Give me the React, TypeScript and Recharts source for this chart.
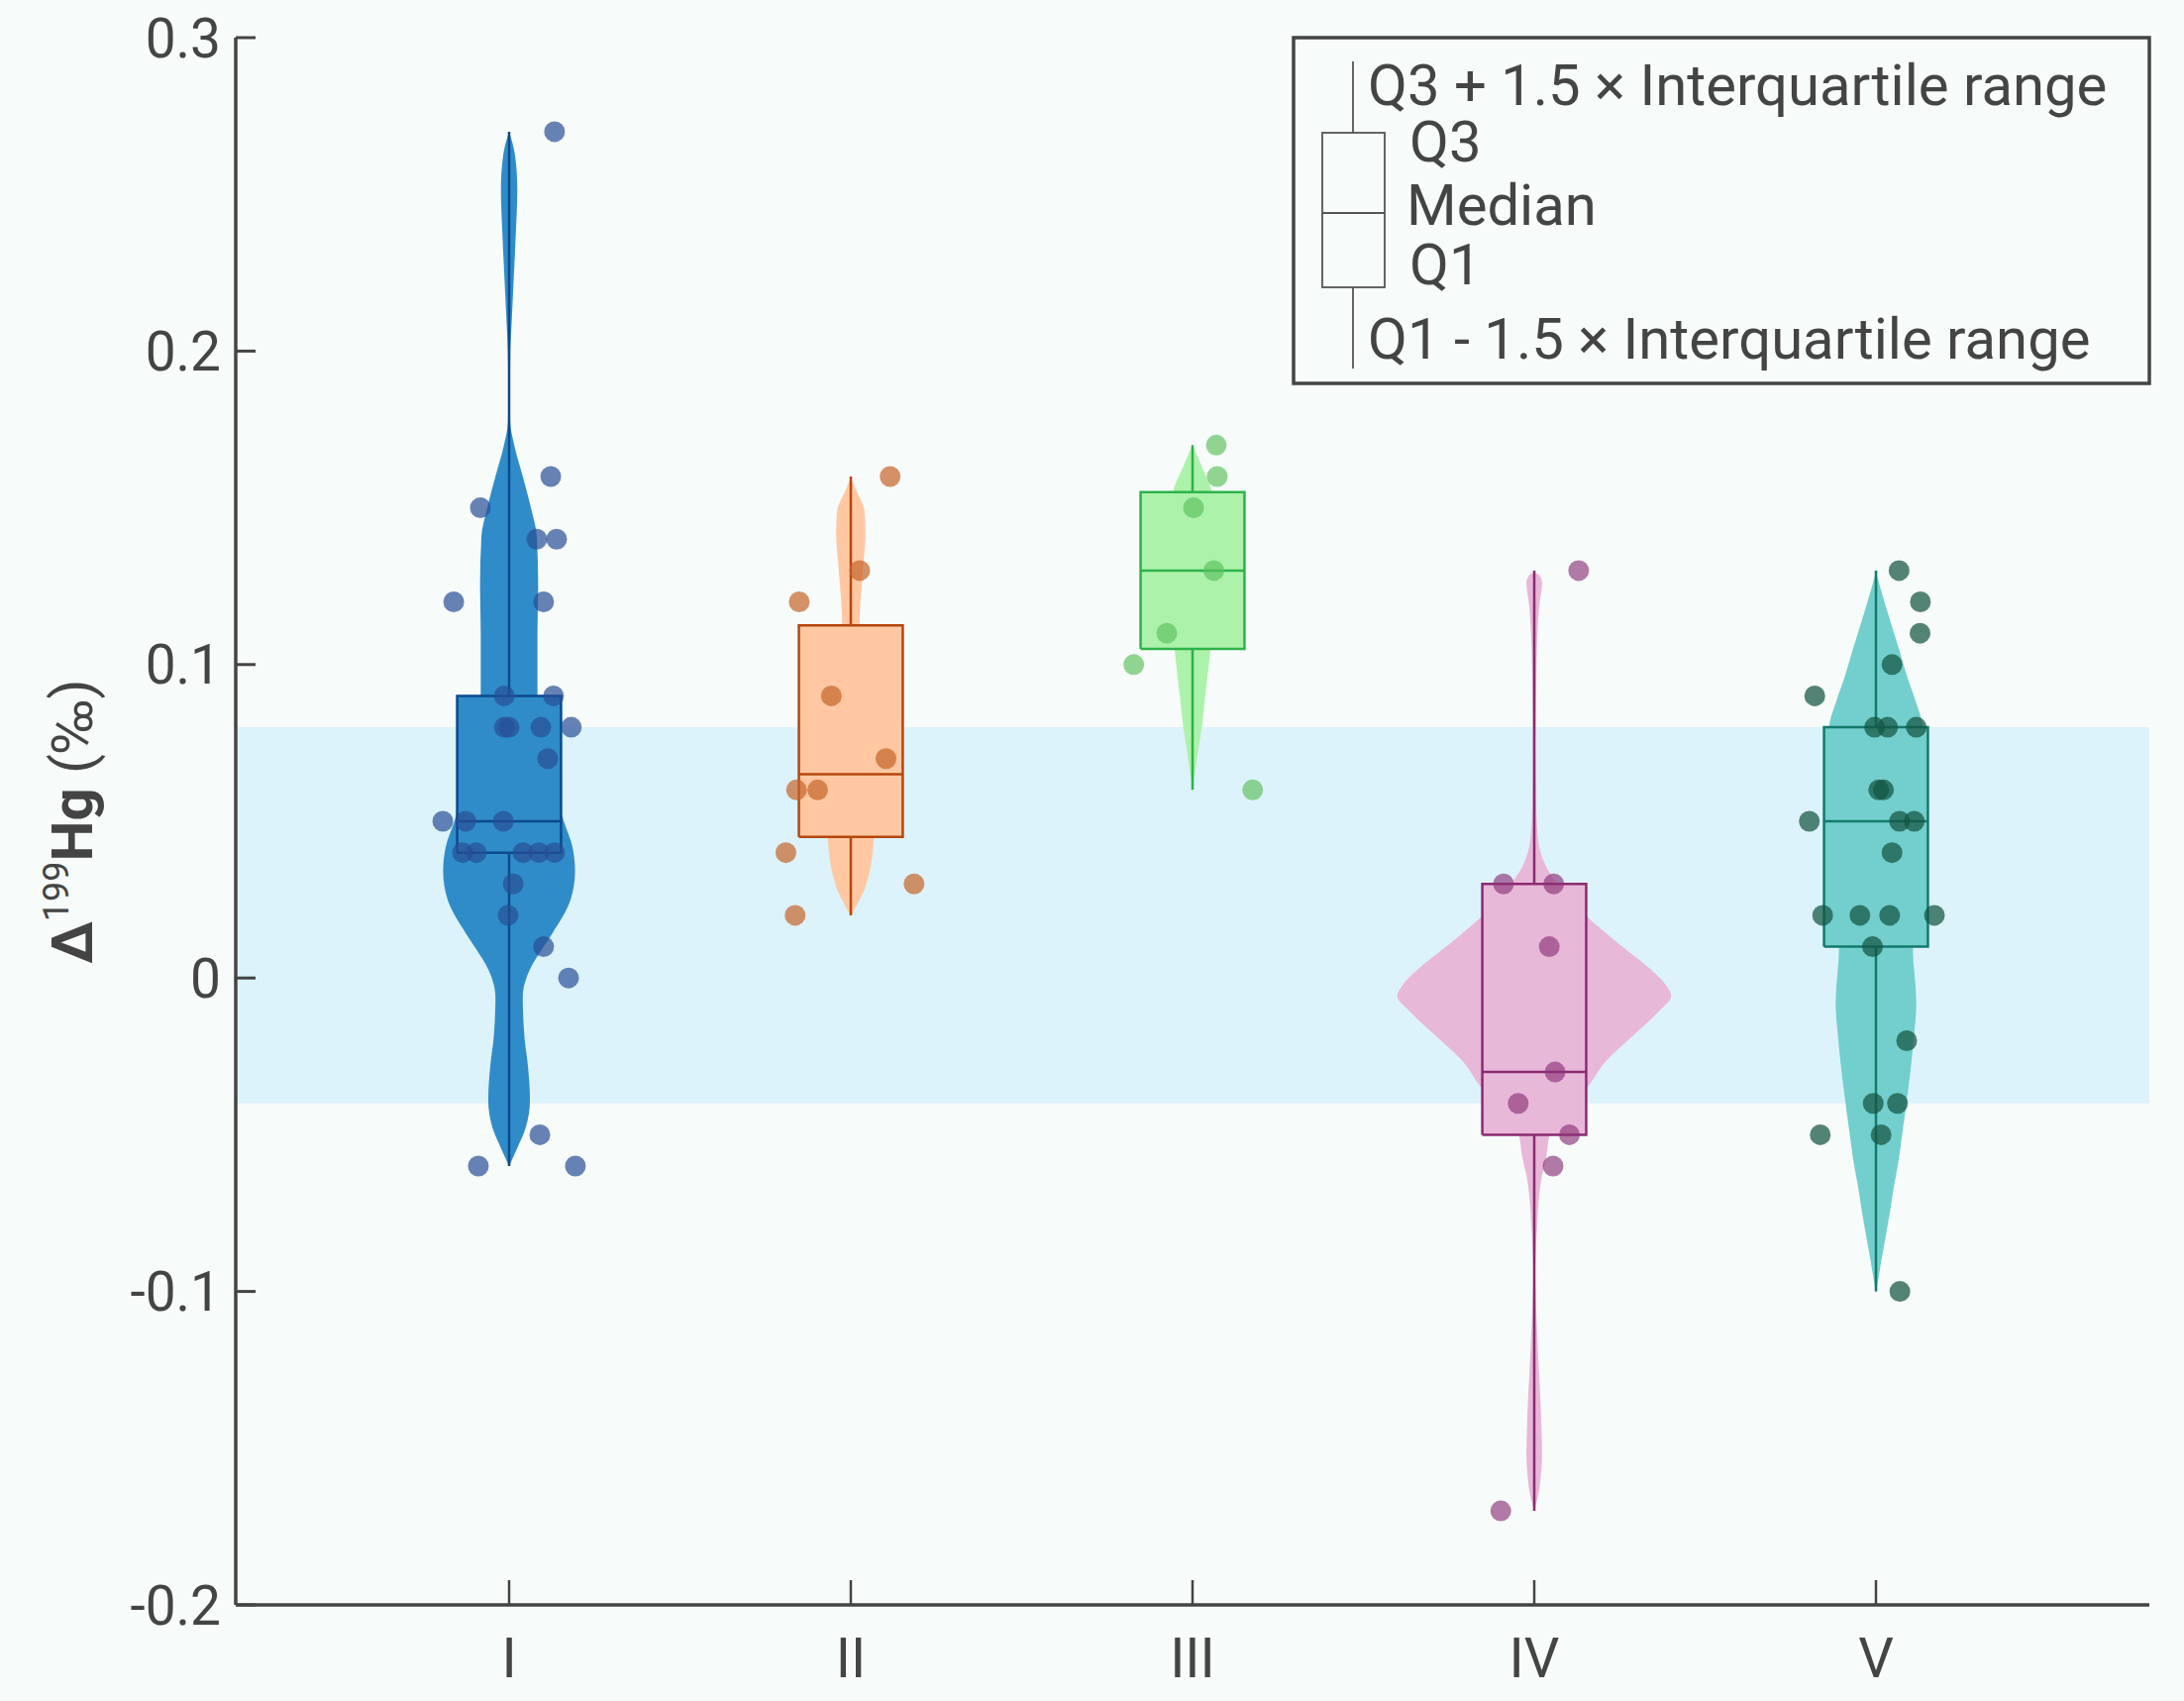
import React from "react";
import { ComposedChart, Scatter, XAxis, YAxis, ReferenceArea } from "recharts";

document.body.style.margin = "0";

const BG = "#f7fbfa";
const INK = "#444444";

// categories and their x positions
const categories = ["I", "II", "III", "IV", "V"];
const positions = [1, 2, 3, 4, 5];
const yTicks = [-0.2, -0.1, 0, 0.1, 0.2, 0.3];

// background reference band
const bandLow = -0.04;
const bandHigh = 0.08;

// box plot statistics
const q1 = [0.04, 0.045, 0.105, -0.05, 0.01];
const medians = [0.05, 0.065, 0.13, -0.03, 0.05];
const q3 = [0.09, 0.1125, 0.155, 0.03, 0.08];
const lowEnds = [-0.06, 0.02, 0.06, -0.17, -0.1];
const highEnds = [0.27, 0.16, 0.17, 0.13, 0.13];
const boxHalf = 0.152;

// violin outlines: [value, half width]
const violinI: [number, number][] = [
  [-0.06, 0], [-0.054, 0.025], [-0.048, 0.048], [-0.039, 0.061], [-0.028, 0.055],
  [-0.019, 0.045], [-0.006, 0.04], [0.003, 0.062], [0.009, 0.095], [0.0143, 0.127],
  [0.025, 0.18], [0.034, 0.193], [0.042, 0.185], [0.05, 0.16], [0.062, 0.13],
  [0.075, 0.1], [0.09, 0.083], [0.11, 0.083], [0.125, 0.085], [0.141, 0.081],
  [0.1495, 0.065], [0.16, 0.04], [0.17, 0.015], [0.178, 0.003], [0.196, 0.003],
  [0.214, 0.0096], [0.236, 0.019], [0.2516, 0.024], [0.2627, 0.017], [0.27, 0],
];
const violinII: [number, number][] = [
  [0.0197, 0], [0.0234, 0.018], [0.0276, 0.038], [0.0318, 0.05], [0.036, 0.059],
  [0.0402, 0.064], [0.0446, 0.0675], [0.055, 0.068], [0.07, 0.06], [0.085, 0.045],
  [0.1, 0.032], [0.112, 0.025], [0.12, 0.028], [0.131, 0.036], [0.142, 0.043],
  [0.149, 0.04], [0.155, 0.018], [0.1596, 0],
];
const violinIII: [number, number][] = [
  [0.06, 0], [0.07, 0.013], [0.08, 0.027], [0.09, 0.037], [0.1047, 0.052],
  [0.12, 0.06], [0.14, 0.062], [0.155, 0.056], [0.1624, 0.03], [0.17, 0],
];
const violinIV: [number, number][] = [
  [-0.17, 0], [-0.165, 0.012], [-0.158, 0.02], [-0.152, 0.023], [-0.143, 0.021],
  [-0.134, 0.018], [-0.124, 0.013], [-0.114, 0.009], [-0.104, 0.005], [-0.094, 0.003],
  [-0.086, 0.005], [-0.078, 0.009], [-0.0725, 0.012], [-0.064, 0.021], [-0.0566, 0.036],
  [-0.05, 0.045], [-0.043, 0.08], [-0.0346, 0.157], [-0.0265, 0.21], [-0.0186, 0.287],
  [-0.0107, 0.364], [-0.0056, 0.401], [-0.0027, 0.388], [0.0033, 0.335], [0.0113, 0.243],
  [0.0197, 0.153], [0.0297, 0.07], [0.0353, 0.036], [0.0412, 0.016], [0.047, 0.009],
  [0.06, 0.005], [0.075, 0.004], [0.095, 0.006], [0.111, 0.01], [0.119, 0.015],
  [0.126, 0.023], [0.1285, 0.015], [0.1294, 0],
];
const violinV: [number, number][] = [
  [-0.1006, 0], [-0.09, 0.016], [-0.0746, 0.041], [-0.0668, 0.052], [-0.059, 0.065],
  [-0.048, 0.079], [-0.04, 0.089], [-0.02, 0.11], [-0.0078, 0.118], [0.0096, 0.108],
  [0.03, 0.12], [0.05, 0.14], [0.0797, 0.137], [0.0886, 0.115], [0.0962, 0.091],
  [0.104, 0.07], [0.1117, 0.048], [0.1195, 0.026], [0.1296, 0],
];

// sample points: [horizontal jitter, value]
const pointsI: [number, number][] = [
  [0.133, 0.27], [0.122, 0.16], [-0.084, 0.15], [0.081, 0.14], [0.139, 0.14],
  [-0.162, 0.12], [0.101, 0.12], [-0.014, 0.09], [0.13, 0.09], [-0.014, 0.08],
  [0, 0.08], [0.093, 0.08], [0.182, 0.08], [0.113, 0.07], [-0.194, 0.05],
  [-0.127, 0.05], [-0.017, 0.05], [-0.136, 0.04], [-0.096, 0.04], [0.041, 0.04],
  [0.087, 0.04], [0.133, 0.04], [0.012, 0.03], [-0.003, 0.02], [0.101, 0.01],
  [0.174, 0], [0.09, -0.05], [-0.09, -0.06], [0.194, -0.06],
];
const pointsII: [number, number][] = [
  [0.115, 0.16], [0.026, 0.13], [-0.151, 0.12], [-0.057, 0.09], [0.103, 0.07],
  [-0.159, 0.06], [-0.097, 0.06], [-0.19, 0.04], [0.185, 0.03], [-0.163, 0.02],
];
const pointsIII: [number, number][] = [
  [0.0695, 0.17], [0.0724, 0.16], [0.003, 0.15], [0.0623, 0.13], [-0.0753, 0.11],
  [-0.172, 0.1], [0.176, 0.06],
];
const pointsIV: [number, number][] = [
  [0.13, 0.13], [-0.09, 0.03], [0.057, 0.03], [0.044, 0.01], [0.061, -0.03],
  [-0.047, -0.04], [0.103, -0.05], [0.055, -0.06], [-0.098, -0.17],
];
const pointsV: [number, number][] = [
  [0.0676, 0.13], [0.13, 0.12], [0.129, 0.11], [0.047, 0.1], [-0.179, 0.09],
  [-0.004, 0.08], [0.034, 0.08], [0.118, 0.08], [0.008, 0.06], [0.022, 0.06],
  [-0.195, 0.05], [0.069, 0.05], [0.112, 0.05], [0.047, 0.04], [-0.156, 0.02],
  [-0.047, 0.02], [0.04, 0.02], [0.171, 0.02], [-0.01, 0.01], [0.09, -0.02],
  [-0.008, -0.04], [0.063, -0.04], [-0.163, -0.05], [0.015, -0.05], [0.07, -0.1],
];

const violins = [violinI, violinII, violinIII, violinIV, violinV];
const samples = [pointsI, pointsII, pointsIII, pointsIV, pointsV];

const violinFills = ["#2f8cc9", "#ffc8a2", "#adf2aa", "#e8b8d8", "#72cfcd"];
const edgeColors = ["#0b4a8c", "#b4470f", "#2db34a", "#8b2a73", "#137a6c"];
const dotColors = ["#284f96", "#c46428", "#5abe5a", "#8c3278", "#145541"];
const dotOpacity = [0.7, 0.7, 0.65, 0.65, 0.72];

const Empty = () => <g />;

const makeDot = (color: string, opacity: number) => (p: any) =>
  <circle cx={p.cx} cy={p.cy} r={10.5} fill={color} fillOpacity={opacity} />;

const YLabel = (props: any) => {
  const vb = props.viewBox || { x: 0, y: 38, width: 238, height: 1582 };
  const cx = vb.x + 93;
  const cy = vb.y + vb.height / 2;
  return (
    <text
      x={cx}
      y={cy}
      transform={`rotate(-90, ${cx}, ${cy})`}
      textAnchor="middle"
      fill={INK}
      fontFamily="Roboto"
      fontSize={58}
    >
      <tspan fontWeight="bold">Δ</tspan>
      <tspan fontSize={36} dy={-24}>199</tspan>
      <tspan fontWeight="bold" dy={24}>Hg</tspan>
      <tspan> (‰)</tspan>
    </text>
  );
};

const LegendBox = () => {
  const textStyle = { fontFamily: "Roboto", fontSize: 58, fill: INK };
  return (
    <svg
      width={2205}
      height={1717}
      style={{ position: "absolute", left: 0, top: 0, pointerEvents: "none" }}
    >
      <rect x={1306} y={38} width={864} height={349} fill={BG} stroke={INK} strokeWidth={3.5} />
      <line x1={1366} x2={1366} y1={62} y2={134} stroke="#555" strokeWidth={1.8} />
      <rect x={1335} y={134} width={63} height={156} fill="none" stroke="#555" strokeWidth={1.8} />
      <line x1={1335} x2={1398} y1={215} y2={215} stroke="#555" strokeWidth={1.8} />
      <line x1={1366} x2={1366} y1={290} y2={372} stroke="#555" strokeWidth={1.8} />
      <text x={1381} y={106} {...textStyle}>Q3 + 1.5 × Interquartile range</text>
      <text x={1423} y={163} {...textStyle}>Q3</text>
      <text x={1420} y={227} {...textStyle}>Median</text>
      <text x={1423} y={287} {...textStyle}>Q1</text>
      <text x={1381} y={362} {...textStyle}>Q1 - 1.5 × Interquartile range</text>
    </svg>
  );
};

export default function App() {
  const series = categories.flatMap((name, i) => {
    const pos = positions[i];
    const left = violins[i].map(([v, w]) => ({ x: pos - w, y: v }));
    const right = violins[i].map(([v, w]) => ({ x: pos + w, y: v }));
    const whisker = [
      { x: pos, y: lowEnds[i] },
      { x: pos, y: highEnds[i] },
    ];
    const box = [
      { x: pos - boxHalf, y: q1[i] },
      { x: pos - boxHalf, y: q3[i] },
      { x: pos + boxHalf, y: q3[i] },
      { x: pos + boxHalf, y: q1[i] },
      { x: pos - boxHalf, y: q1[i] },
    ];
    const median = [
      { x: pos - boxHalf, y: medians[i] },
      { x: pos + boxHalf, y: medians[i] },
    ];
    const dots = samples[i].map(([j, v]) => ({ x: pos + j, y: v }));
    return [
      <Scatter
        key={`${name}-vl`}
        data={left}
        line={{ fill: violinFills[i], stroke: "none" }}
        lineJointType="monotoneY"
        shape={Empty}
        isAnimationActive={false}
      />,
      <Scatter
        key={`${name}-vr`}
        data={right}
        line={{ fill: violinFills[i], stroke: "none" }}
        lineJointType="monotoneY"
        shape={Empty}
        isAnimationActive={false}
      />,
      <Scatter
        key={`${name}-wh`}
        data={whisker}
        line={{ fill: "none", stroke: edgeColors[i], strokeWidth: 2.5 }}
        lineJointType="linear"
        shape={Empty}
        isAnimationActive={false}
      />,
      <Scatter
        key={`${name}-box`}
        data={box}
        line={{ fill: violinFills[i], stroke: edgeColors[i], strokeWidth: 2.5 }}
        lineJointType="linear"
        shape={Empty}
        isAnimationActive={false}
      />,
      <Scatter
        key={`${name}-med`}
        data={median}
        line={{ fill: "none", stroke: edgeColors[i], strokeWidth: 2.5 }}
        lineJointType="linear"
        shape={Empty}
        isAnimationActive={false}
      />,
      <Scatter
        key={`${name}-pts`}
        data={dots}
        shape={makeDot(dotColors[i], dotOpacity[i])}
        isAnimationActive={false}
      />,
    ];
  });

  return (
    <div
      style={{
        position: "relative",
        width: 2205,
        height: 1717,
        background: BG,
        fontFamily: "Roboto",
      }}
    >
      <ComposedChart
        width={2205}
        height={1717}
        margin={{ top: 38, right: 35, left: 0, bottom: 0 }}
      >
        <XAxis
          dataKey="x"
          type="number"
          domain={[0.2, 5.8]}
          allowDataOverflow
          ticks={positions}
          interval={0}
          tickFormatter={(v: number) => categories[positions.indexOf(v)] ?? ""}
          height={97}
          tickSize={-25}
          tickMargin={58}
          axisLine={{ stroke: INK, strokeWidth: 3.5 }}
          tickLine={{ stroke: INK, strokeWidth: 2.5 }}
          tick={{ fill: INK, fontSize: 56, fontFamily: "Roboto" }}
        />
        <XAxis
          xAxisId="top"
          orientation="top"
          type="number"
          domain={[0.2, 5.8]}
          height={0}
          tick={false}
          tickLine={false}
          axisLine={{ stroke: INK, strokeWidth: 3.5 }}
        />
        <YAxis
          dataKey="y"
          type="number"
          domain={[-0.2, 0.3]}
          allowDataOverflow
          ticks={yTicks}
          interval={0}
          tickFormatter={(v: number) => (v === 0 ? "0" : v.toFixed(1))}
          width={238}
          tickSize={-20}
          tickMargin={35}
          axisLine={{ stroke: INK, strokeWidth: 3.5 }}
          tickLine={{ stroke: INK, strokeWidth: 3 }}
          tick={{ fill: INK, fontSize: 55, fontFamily: "Roboto" }}
          label={<YLabel />}
        />
        <YAxis
          yAxisId="right"
          orientation="right"
          type="number"
          domain={[-0.2, 0.3]}
          width={0}
          tick={false}
          tickLine={false}
          axisLine={{ stroke: INK, strokeWidth: 3.5 }}
        />
        <ReferenceArea
          y1={bandLow}
          y2={bandHigh}
          fill="#ddf3fb"
          fillOpacity={1}
          stroke="none"
        />
        {series}
      </ComposedChart>
      <LegendBox />
    </div>
  );
}
